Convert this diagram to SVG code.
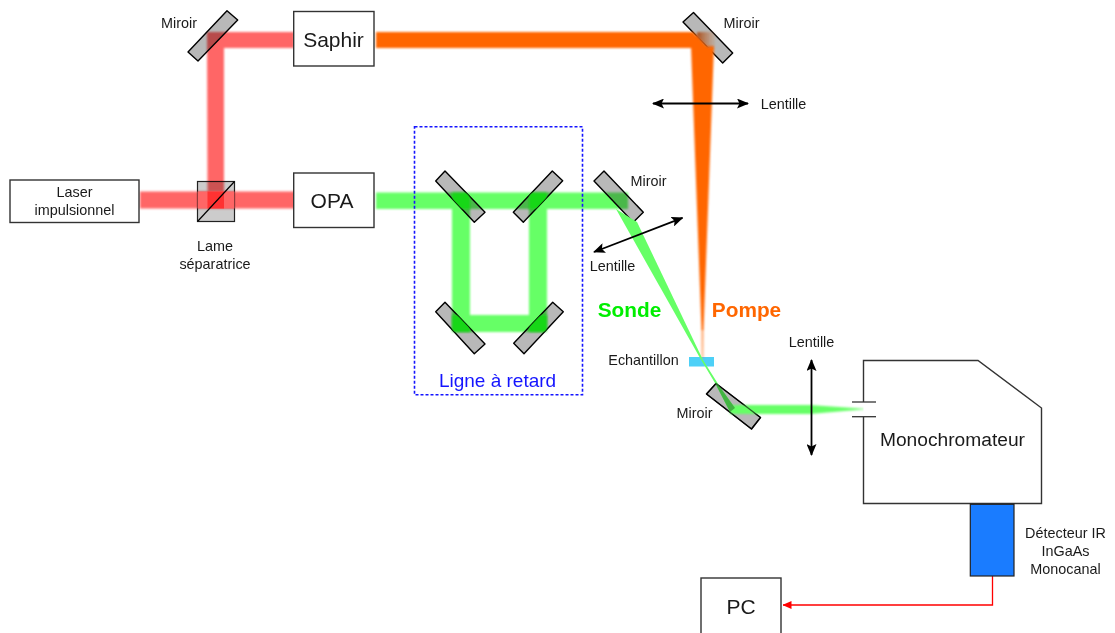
<svg xmlns="http://www.w3.org/2000/svg" width="1115" height="633" viewBox="0 0 1115 633">
<style>
text{font-family:"Liberation Sans",Arial,sans-serif;fill:#1a1a1a;text-anchor:middle}
.s{font-size:14.4px}
.l{font-size:21px}
.box{fill:#fff;stroke:#333;stroke-width:1.4}
.mir{fill:#b8b8b8;stroke:#000;stroke-width:1.4;stroke-linejoin:round}
.r{fill:#ff6666}
.g{fill:#66ff66}
.o{fill:#ff6600}
.dk{fill:#10dc10;fill-opacity:.85}
.mul{mix-blend-mode:multiply}
.arr{stroke:#000;stroke-width:1.800;fill:none;marker-start:url(#ah);marker-end:url(#ah)}
</style>
<defs>
<marker id="ah" viewBox="0 0 12 10" refX="11" refY="5" markerWidth="12" markerHeight="10" markerUnits="userSpaceOnUse" orient="auto-start-reverse"><path d="M0 0L12 5L0 10L2.500 5Z" fill="#000"/></marker>
<marker id="rh" viewBox="0 0 9 8" refX="8.500" refY="4" markerWidth="9" markerHeight="8" markerUnits="userSpaceOnUse" orient="auto"><path d="M0 0L9 4L0 8Z" fill="#f00"/></marker>
<filter id="b" x="-20%" y="-20%" width="140%" height="140%"><feGaussianBlur stdDeviation="0.9"/></filter>
<filter id="b2" x="-20%" y="-20%" width="140%" height="140%"><feGaussianBlur stdDeviation="0.4"/></filter>
<linearGradient id="haze" x1="0" y1="0" x2="1" y2="0"><stop offset="0" stop-color="#a8501c"/><stop offset="1" stop-color="#c87840" stop-opacity=".15"/></linearGradient>
<linearGradient id="pump" gradientUnits="userSpaceOnUse" x1="0" y1="290" x2="0" y2="358"><stop offset="0" stop-color="#ff6600"/><stop offset="1" stop-color="#ff6600" stop-opacity=".35"/></linearGradient>
<clipPath id="c2"><polygon points="693.500,12.500 732.700,53 722.700,63 683,22"/></clipPath>
<clipPath id="c3"><polygon points="445,171 485,212.300 474.300,222.300 435.700,181"/></clipPath>
<clipPath id="c4"><polygon points="552.300,171 562.700,180.700 523.300,222.300 513.300,212.300"/></clipPath>
<clipPath id="c5"><polygon points="445,302.300 485,344 474.300,353.700 435.700,311.700"/></clipPath>
<clipPath id="c6"><polygon points="552.700,302.300 563.300,311.700 524,353.700 513.700,343.300"/></clipPath>
</defs>

<g id="miroir-1"><polygon class="mir" points="227,10.700 237.700,20 198,61 188,52"/></g>
<g id="miroir-2"><polygon class="mir" points="693.500,12.500 732.700,53 722.700,63 683,22"/></g>
<g id="lame"><rect x="197.500" y="181.500" width="37" height="40" fill="#ccc" stroke="#222" stroke-width="1.200"/></g>
<g id="miroir-3"><polygon class="mir" points="445,171 485,212.300 474.300,222.300 435.700,181"/></g>
<g id="miroir-4"><polygon class="mir" points="552.300,171 562.700,180.700 523.300,222.300 513.300,212.300"/></g>
<g id="miroir-5"><polygon class="mir" points="445,302.300 485,344 474.300,353.700 435.700,311.700"/></g>
<g id="miroir-6"><polygon class="mir" points="552.700,302.300 563.300,311.700 524,353.700 513.700,343.300"/></g>
<g id="miroir-7"><polygon class="mir" points="604,171 643.300,212.300 633.300,222.300 594,181"/></g>
<g id="miroir-8"><polygon class="mir" points="716,383.500 760.500,417.500 751.500,429 706.500,394"/></g>
<g id="echantillon"><rect x="689" y="357" width="25" height="9.500" fill="#4dd0f7"/></g>

<g id="connectors">
<g class="mul" filter="url(#b)">
<rect class="r" x="140" y="191.500" width="155" height="17"/>
<path class="r" d="M207 32H294V48H224V191.500H207.500Z"/>
<path class="g" d="M376 192.500H628V209H547V332H452V209H376ZM470 209V315H529V209Z" fill-rule="evenodd"/>
</g>
<g filter="url(#b2)">
<rect x="197.500" y="191.500" width="37" height="17" fill="#ff6666"/>
<rect x="207.500" y="191.500" width="16.500" height="17" fill="#ff3333"/>
</g>
<g filter="url(#b)">
<polygon class="o" points="376,32 693,32 708.500,48 376,48"/>
<polygon class="o" points="691,46 714,46 703.500,330 701.500,330"/>
<polygon fill="url(#pump)" points="701.500,329 703.500,329 703.700,358 701.200,358"/>
<rect x="697" y="32" width="18" height="16" fill="url(#haze)" clip-path="url(#c2)"/>
<rect class="g" x="730" y="405" width="80" height="9"/>
<polygon class="g" points="810,405 868,409 810,414"/>
</g>
<g clip-path="url(#c3)"><rect x="452" y="192.500" width="18" height="16.500" class="dk" filter="url(#b)"/></g>
<g clip-path="url(#c4)"><rect x="529" y="192.500" width="18" height="16.500" class="dk" filter="url(#b)"/></g>
<g clip-path="url(#c5)"><rect x="452" y="315" width="18" height="17" class="dk" filter="url(#b)"/></g>
<g clip-path="url(#c6)"><rect x="529" y="315" width="18" height="17" class="dk" filter="url(#b)"/></g>
<g filter="url(#b2)">
<polygon class="g mul" points="616,209 637,222 703,360 700,358"/>
<polygon class="g" points="700,358 703,360 720,387 735,408 730,412 715,383"/>
<polygon points="715,383 720,387 735,408 730,412" fill="#308a30" fill-opacity=".65"/>
</g>
<polygon points="716,383.500 760.500,417.500 751.500,429 706.500,394" fill="none" stroke="#000" stroke-width="1.400" stroke-opacity=".6" stroke-linejoin="round"/>
<path d="M992.500 576V605H783" fill="none" stroke="#f00" stroke-width="1.300" marker-end="url(#rh)"/>
<line class="arr" x1="653" y1="103.500" x2="748" y2="103.500"/>
<line class="arr" x1="594" y1="252" x2="682.500" y2="217.800"/>
<line class="arr" x1="811.500" y1="360" x2="811.500" y2="455"/>
</g>
<line x1="197.500" y1="221.500" x2="234.500" y2="181.500" stroke="#000" stroke-width="1.200"/>

<g id="laser"><rect class="box" x="10" y="180" width="129" height="42.500"/><text class="s" x="74.500" y="197">Laser</text><text class="s" x="74.500" y="215">impulsionnel</text></g>
<g id="saphir"><rect class="box" x="293.700" y="11.500" width="80.300" height="54.500"/><text class="l" x="333.500" y="46.500">Saphir</text></g>
<g id="opa"><rect class="box" x="293.700" y="173" width="80.300" height="54.500"/><text class="l" x="332" y="208">OPA</text></g>
<g id="monochromateur"><path class="box" d="M863.500 402V360.500H978L1041.500 408V503.500H863.500V417"/><line x1="852" y1="402" x2="876" y2="402" stroke="#333" stroke-width="1.300"/><line x1="852" y1="416.700" x2="876" y2="416.700" stroke="#333" stroke-width="1.300"/><text x="952.500" y="446" font-size="19.200">Monochromateur</text></g>
<g id="detecteur"><rect x="970.300" y="504.300" width="43.700" height="71.700" fill="#1a7cff" stroke="#222" stroke-width="1.200"/></g>
<g id="pc"><rect class="box" x="701" y="578" width="80" height="56"/><text class="l" x="741" y="613.500">PC</text></g>

<g id="labels">
<text class="s" x="179" y="27.500">Miroir</text>
<text class="s" x="741.500" y="27.500">Miroir</text>
<text class="s" x="648.500" y="185.500">Miroir</text>
<text class="s" x="694.500" y="417.500">Miroir</text>
<text class="s" x="783.500" y="108.500">Lentille</text>
<text class="s" x="612.500" y="270.500">Lentille</text>
<text class="s" x="811.500" y="346.500">Lentille</text>
<text class="s" x="215" y="251">Lame</text>
<text class="s" x="215" y="269">séparatrice</text>
<text class="s" x="643.500" y="365">Echantillon</text>
<text x="629.500" y="317" font-size="20.800" font-weight="700" style="fill:#00ee00">Sonde</text>
<text x="746.500" y="316.500" font-size="20.800" font-weight="700" style="fill:#ff6600">Pompe</text>
<text x="497.500" y="386.500" font-size="19" style="fill:#1414ff">Ligne à retard</text>
<text class="s" x="1065.500" y="537.500">Détecteur IR</text>
<text class="s" x="1065.500" y="555.500">InGaAs</text>
<text class="s" x="1065.500" y="574">Monocanal</text>
<rect x="414.500" y="126.700" width="168" height="268" fill="none" stroke="#1414ff" stroke-width="1.600" stroke-dasharray="3 2"/>
</g>
</svg>
